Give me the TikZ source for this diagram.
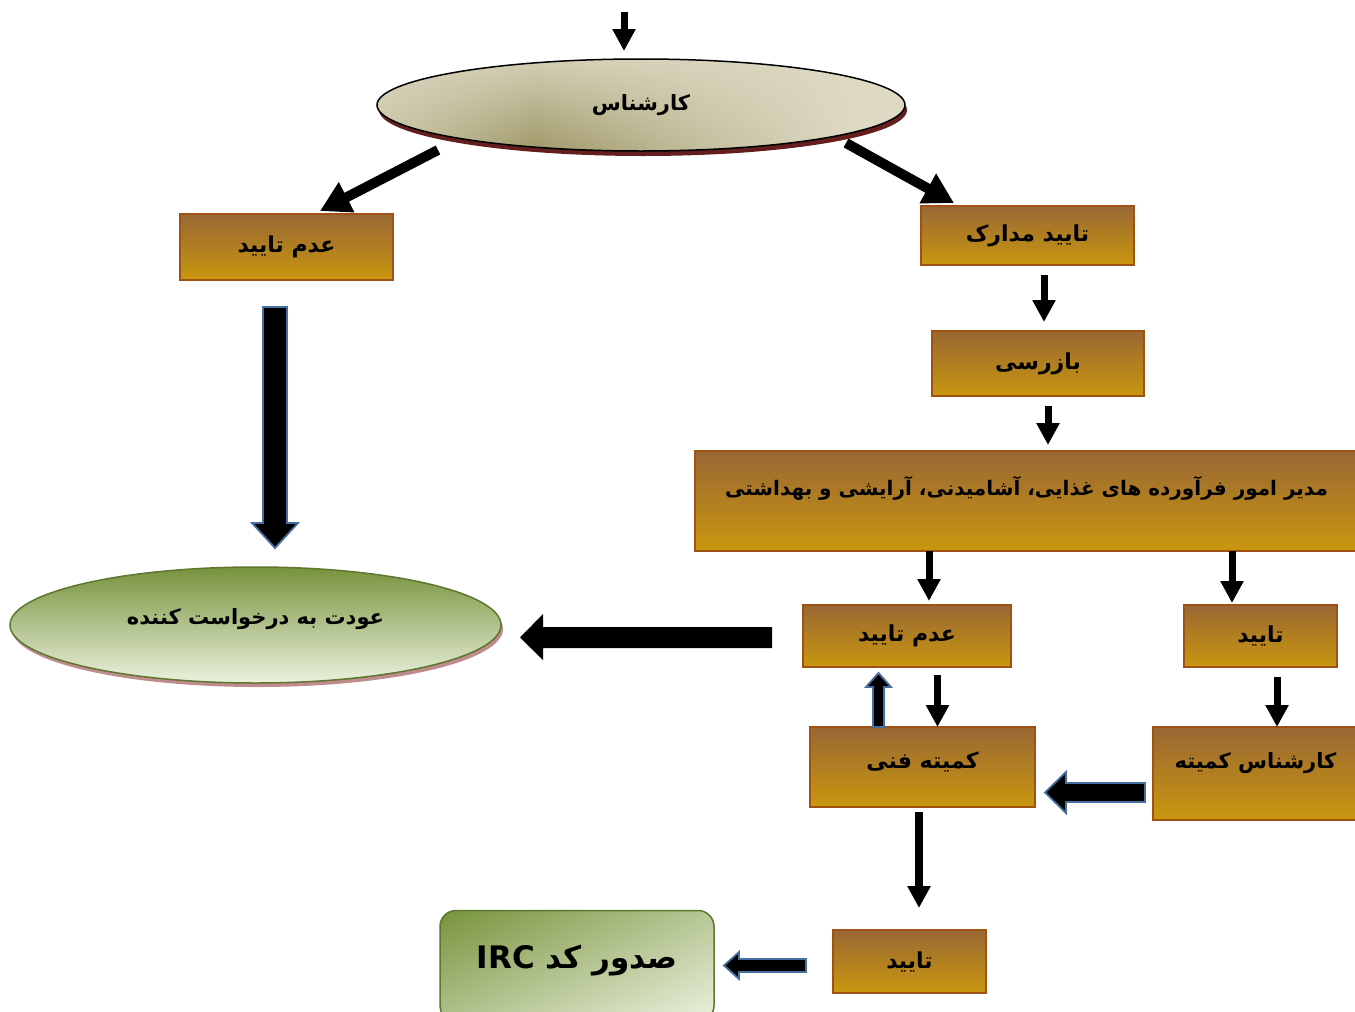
\documentclass[tikz,border=0pt]{standalone}
\usepackage{fontspec}
\newfontfamily\arabicfont[Script=Arabic]{DejaVu Sans}
\TeXXeTstate=1
\usetikzlibrary{arrows.meta,shadings,shadows,shapes.geometric,fadings}
\definecolor{boxtop}{RGB}{153,103,52}
\definecolor{boxbot}{RGB}{201,151,14}
\definecolor{boxline}{RGB}{160,82,20}
\definecolor{beigeL}{RGB}{221,217,195}
\definecolor{beigeD}{RGB}{160,153,105}
\definecolor{shadowR}{RGB}{100,30,30}
\definecolor{greenD}{RGB}{119,147,60}
\definecolor{greenL}{RGB}{235,241,222}
\definecolor{greenB}{RGB}{95,117,48}
\definecolor{pinkS}{RGB}{190,140,140}
\definecolor{arrowblue}{RGB}{70,110,160}
\pgfdeclarehorizontalshading{beigeshade}{100bp}{color(0bp)=(beigeL); color(25bp)=(beigeL!70!beigeD); color(40bp)=(beigeD); color(55bp)=(beigeL!55!beigeD); color(70bp)=(beigeL); color(100bp)=(beigeL)}
\tikzset{
  txt/.style={font=\arabicfont\bfseries\fontsize{#1}{#1}\selectfont, text=black},
  fbox/.style={draw=boxline, line width=1.5pt, top color=boxtop, bottom color=boxbot, inner sep=0pt, shape=rectangle},
  la/.style={line width=7pt, -{Triangle[width=22pt,length=22pt]}},
  lab/.style={line width=10pt, -{Triangle[width=32pt,length=30pt]}},
  blk/.style={fill=black, draw=arrowblue, line width=1.8pt, line join=miter},
}
\begin{document}
\begin{tikzpicture}[x=1pt,y=-1pt]
\useasboundingbox (0,0) rectangle (1355,1012);

% nodes
\node[ellipse, draw=black, line width=1.5pt, shading=beigeshade, minimum width=528pt, minimum height=92pt, inner sep=0pt,
  drop shadow={shadow xshift=2pt, shadow yshift=-5pt, fill=shadowR, opacity=1},
  path picture={\fill[beigeL, path fading=south, opacity=0.85] (path picture bounding box.south west) rectangle (path picture bounding box.north east);},
  txt=21] (k) at (641,105) {\beginR کارشناس\endR};

\node[fbox, minimum width=213pt, minimum height=66pt, txt=22] (r1) at (286.5,247) {\beginR عدم تایید\endR};
\node[fbox, minimum width=213pt, minimum height=59pt, txt=22] (t1) at (1027.5,235.5) {\beginR تایید مدارک\endR};
\node[fbox, minimum width=212pt, minimum height=65pt, txt=22] (bz) at (1038,363.5) {\beginR بازرسی\endR};
\node[fbox, minimum width=663pt, minimum height=100pt, text depth=30pt, txt=20] (big) at (1026.5,501) {\beginR مدیر امور فرآورده های غذایی، آشامیدنی، آرایشی و بهداشتی\endR};
\node[fbox, minimum width=208pt, minimum height=62pt, txt=22] (r2) at (907,636) {\beginR عدم تایید\endR};
\node[fbox, minimum width=153pt, minimum height=62pt, txt=22] (t2) at (1260.5,636) {\beginR تایید\endR};
\node[fbox, minimum width=225pt, minimum height=80pt, text depth=14pt, txt=22] (kf) at (922.5,767) {\beginR کمیته فنی\endR};
\node[fbox, minimum width=205pt, minimum height=93pt, text depth=26pt, txt=21] (kk) at (1255.5,773.5) {\beginR کارشناس کمیته\endR};
\node[fbox, minimum width=153pt, minimum height=63pt, txt=22] (t3) at (909.5,961.5) {\beginR تایید\endR};

\node[ellipse, draw=greenB, line width=1.5pt, top color=greenD, bottom color=greenL, minimum width=491pt, minimum height=116pt, inner sep=0pt,
  text depth=16pt, drop shadow={shadow xshift=2pt, shadow yshift=-4pt, fill=pinkS, opacity=1}, txt=21] (g) at (255.5,625) {\beginR عودت به درخواست کننده\endR};

\node[rectangle, rounded corners=16pt, draw=greenB, line width=1.5pt, upper left=greenD, upper right=greenD!45!greenL, lower left=greenD!50!greenL, lower right=greenL,
  minimum width=274pt, minimum height=111pt, inner sep=0pt, text depth=18pt, txt=31] (irc) at (577,966) {\beginR صدور کد \beginL IRC\endL\endR};

% line arrows
\coordinate (a0s) at (624,12);   \coordinate (a0e) at (624,51);
\coordinate (a1s) at (438,150);  \coordinate (a1e) at (320,211);
\coordinate (a2s) at (846,143);  \coordinate (a2e) at (954,203);
\coordinate (a3s) at (1044,275); \coordinate (a3e) at (1044,322);
\coordinate (a4s) at (1048,406); \coordinate (a4e) at (1048,445);
\coordinate (a5s) at (929,551);  \coordinate (a5e) at (929,601);
\coordinate (a6s) at (1232,551); \coordinate (a6e) at (1232,603);
\coordinate (a7s) at (937.5,675);\coordinate (a7e) at (937.5,727);
\coordinate (a8s) at (1277,677); \coordinate (a8e) at (1277,727);
\coordinate (a9s) at (919,812);  \coordinate (a9e) at (919,908);
\draw[la] (a0s) -- (a0e);
\draw[lab] (a1s) -- (a1e);
\draw[lab] (a2s) -- (a2e);
\draw[la] (a3s) -- (a3e);
\draw[la] (a4s) -- (a4e);
\draw[la] (a5s) -- (a5e);
\draw[la] (a6s) -- (a6e);
\draw[la] (a7s) -- (a7e);
\draw[la] (a8s) -- (a8e);
\draw[la, line width=8pt] (a9s) -- (a9e);

% block arrows
\draw[blk] (263,307) -- (287,307) -- (287,523) -- (298,523) -- (275,548) -- (252,523) -- (263,523) -- cycle;
\draw[blk] (873,727) -- (884,727) -- (884,687) -- (891,687) -- (878.5,673) -- (866,687) -- (873,687) -- cycle;
\draw[blk] (1145,783) -- (1145,802) -- (1066,802) -- (1066,813) -- (1045,792.5) -- (1066,772) -- (1066,783) -- cycle;
\fill[black] (772,627) -- (772,648) -- (543,648) -- (543,660) -- (520,637.5) -- (543,614) -- (543,627) -- cycle;
\draw[blk] (806,959) -- (806,972) -- (739,972) -- (739,979) -- (724,965.5) -- (739,952) -- (739,959) -- cycle;
\end{tikzpicture}
\end{document}
